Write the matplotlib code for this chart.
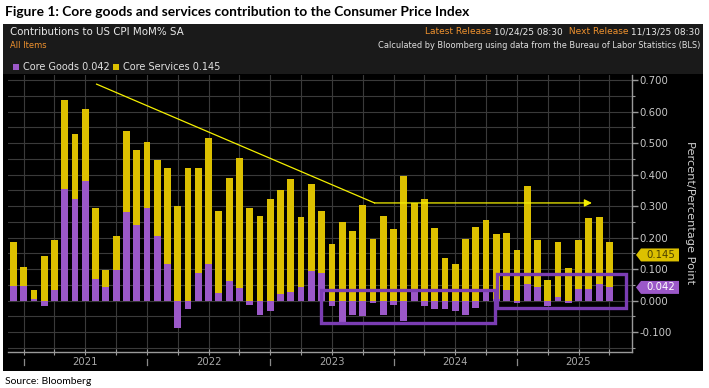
import numpy as np
import pandas as pd
import matplotlib
matplotlib.use("Agg")
import matplotlib.pyplot as plt
from matplotlib.patches import Rectangle, Polygon
from matplotlib.transforms import blended_transform_factory

# ---------------- data ----------------
months = pd.date_range("2020-11-01", periods=59, freq="MS")
core_goods = [0.047, 0.048, 0.004, -0.017, 0.034, 0.354, 0.322, 0.381, 0.069, 0.042,
              0.098, 0.282, 0.240, 0.293, 0.206, 0.116, -0.088, -0.025, 0.087, 0.116,
              0.024, 0.062, 0.041, -0.015, -0.044, -0.032, 0.020, 0.027, 0.042, 0.093,
              0.088, -0.018, -0.067, -0.044, -0.048, -0.007, -0.046, -0.013, -0.063, 0.028,
              -0.018, -0.025, -0.028, -0.032, -0.045, -0.023, 0.029, 0.005, 0.035, -0.006,
              0.054, 0.042, -0.018, 0.012, -0.008, 0.036, 0.038, 0.054, 0.042]
core_services = [0.140, 0.060, 0.030, 0.142, 0.160, 0.284, 0.207, 0.228, 0.224, 0.056,
                 0.108, 0.255, 0.237, 0.210, 0.240, 0.304, 0.299, 0.420, 0.333, 0.399,
                 0.260, 0.327, 0.413, 0.294, 0.268, 0.322, 0.331, 0.358, 0.222, 0.278,
                 0.196, 0.180, 0.248, 0.220, 0.305, 0.197, 0.268, 0.227, 0.396, 0.283,
                 0.324, 0.231, 0.135, 0.116, 0.197, 0.234, 0.227, 0.205, 0.181, 0.161,
                 0.311, 0.152, 0.064, 0.175, 0.104, 0.157, 0.223, 0.210, 0.145]
y_ticks = [-0.1, 0.0, 0.1, 0.2, 0.3, 0.4, 0.5, 0.6, 0.7]
year_labels = ["2021", "2022", "2023", "2024", "2025"]

# annotation shapes (trend arrow and highlight boxes), x in bar index units
trend_x = [8.1, 35.15, 56.3]
trend_y = [0.687, 0.310, 0.310]
boxes = [(29.95, 46.9, -0.071, 0.034), (47.07, 59.66, -0.024, 0.084)]

# ---------------- style ----------------
PURPLE = "#9b58c8"
YELLOW = "#dcc000"
BOXC = "#7b3db3"
GRID = "#3a3a3a"
TXT = "#c8c8c8"
ORANGE = "#f0922e"
FONT = "DejaVu Sans"

W, H = 709, 388
fig = plt.figure(figsize=(W / 100, H / 100), dpi=100)
fig.patch.set_facecolor("white")


def fx(px):
    return px / W


def fy(py):
    return 1 - py / H


# panel backgrounds
fig.patches.append(Rectangle((fx(3), fy(371)), fx(700), 347 / H, transform=fig.transFigure,
                             facecolor="black", edgecolor="none", zorder=-2))
fig.patches.append(Rectangle((fx(3), fy(74)), fx(700), 50 / H, transform=fig.transFigure,
                             facecolor="#1a1a1a", edgecolor="none", zorder=-1))

# title & source
fig.text(fx(5), fy(12), "Figure 1: Core goods and services contribution to the Consumer Price Index",
         fontsize=9.9, fontweight="bold", family="Lato", color="black", va="center", ha="left")
fig.text(fx(5), fy(381), "Source: Bloomberg", fontsize=7.5, family="Lato", color="black",
         va="center", ha="left")

# header texts
fig.text(fx(10), fy(32), "Contributions to US CPI MoM% SA", fontsize=7.4, family=FONT,
         color="#e8e8e8", va="center", ha="left")
fig.text(fx(10), fy(45), "All Items", fontsize=6.0, family=FONT, color=ORANGE, va="center", ha="left")

parts = [("Latest Release", ORANGE), (" 10/24/25 08:30 ", "#e8e8e8"),
         (" Next Release", ORANGE), (" 11/13/25 08:30", "#e8e8e8")]
renderer = fig.canvas.get_renderer()
xr = fx(700)
for text, col in reversed(parts):
    t = fig.text(xr, fy(32), text, fontsize=6.5, family=FONT, color=col, va="center", ha="right")
    bb = t.get_window_extent(renderer=renderer)
    xr -= bb.width / W
fig.text(fx(700), fy(45), "Calculated by Bloomberg using data from the Bureau of Labor Statistics (BLS)",
         fontsize=5.95, family=FONT, color="#e0e0e0", va="center", ha="right")

# legend row
fig.patches.append(Rectangle((fx(13), fy(70)), 6 / W, 6 / H, transform=fig.transFigure,
                             facecolor=PURPLE, edgecolor="none"))
fig.text(fx(23), fy(66.5), f"Core Goods {core_goods[-1]:.3f}", fontsize=7.0, family=FONT,
         color="#e0e0e0", va="center", ha="left")
fig.patches.append(Rectangle((fx(113), fy(70)), 6 / W, 6 / H, transform=fig.transFigure,
                             facecolor=YELLOW, edgecolor="none"))
fig.text(fx(123), fy(66.5), f"Core Services {core_services[-1]:.3f}", fontsize=7.0, family=FONT,
         color="#e0e0e0", va="center", ha="left")

# ---------------- axes ----------------
ax_l, ax_r, ax_t, ax_b = 8, 632, 75, 351.7
ax = fig.add_axes([fx(ax_l), fy(ax_b), (ax_r - ax_l) / W, (ax_b - ax_t) / H])
ax.set_facecolor("black")

x = np.arange(len(months))
goods = np.array(core_goods)
serv = np.array(core_services)
ax.bar(x, goods, width=0.66, color=PURPLE, zorder=3)
ax.bar(x, serv, bottom=np.maximum(goods, 0), width=0.66, color=YELLOW, zorder=3)

ax.set_xlim(-0.52, 60.2)
ax.set_ylim(-0.162, 0.716)

# grid
quarter_idx = [i for i, m in enumerate(months) if m.month in (3, 6, 9, 12)]
for q in quarter_idx:
    ax.axvline(q, color=GRID, lw=0.8, zorder=1)
for yv in np.arange(-0.15, 0.71, 0.05):
    ax.axhline(yv, color=GRID, lw=0.8, zorder=1)

for s in ["top", "left"]:
    ax.spines[s].set_visible(False)
ax.spines["bottom"].set_color("#9a9a9a")
ax.spines["right"].set_color("#9a9a9a")
ax.spines["bottom"].set_linewidth(1.0)
ax.spines["right"].set_linewidth(1.0)

ax.set_xticks(quarter_idx)
ax.set_xticklabels([])
ax.tick_params(axis="x", direction="inout", length=5, color="#9a9a9a", width=0.8)

ax.yaxis.tick_right()
ax.set_yticks(y_ticks)
ax.set_yticklabels([f"{v:.3f}" for v in y_ticks])
ax.set_yticks(np.arange(-0.15, 0.71, 0.05), minor=True)
ax.tick_params(axis="y", which="major", direction="out", length=4, color="#9a9a9a",
               labelcolor=TXT, labelsize=7.3, pad=1.5, width=1.0)
ax.tick_params(axis="y", which="minor", direction="out", length=2, color="#9a9a9a", width=0.8)
for lab in ax.get_yticklabels():
    lab.set_family(FONT)

# year boundary marks and labels
bt = blended_transform_factory(ax.transData, ax.transAxes)
dec_idx = [i for i, m in enumerate(months) if m.month == 12]
for d in dec_idx:
    ax.plot([d, d], [-0.027, -0.048], transform=bt, color="#8a8a8a", lw=0.9, clip_on=False)
jun_idx = [i for i, m in enumerate(months) if m.month == 6]
for j, lab in zip(jun_idx, year_labels):
    ax.text(j, -0.037, lab, transform=bt, ha="center", va="center", fontsize=7.3,
            family=FONT, color="#a8a8a8", clip_on=False)

# right label
fig.text(fx(690), fy(213), "Percent/Percentage Point", rotation=270, fontsize=8.2, family=FONT,
         color="#d0d0d0", va="center", ha="center")

# value tags
tt = blended_transform_factory(ax.transAxes, ax.transData)
aw = ax_r - ax_l


def tag(val, face, tcol):
    h = 6.5 / 315.3
    x0 = (636 - ax_l) / aw
    x1 = (641 - ax_l) / aw
    x2 = (679 - ax_l) / aw
    poly = Polygon([[x0, val], [x1, val + h], [x2, val + h], [x2, val - h], [x1, val - h]],
                   closed=True, transform=tt, facecolor=face, edgecolor="none", clip_on=False,
                   zorder=6)
    ax.add_patch(poly)
    ax.text((661 - ax_l) / aw, val, f"{val:.3f}", transform=tt, ha="center", va="center",
            fontsize=7.3, family=FONT, color=tcol, clip_on=False, zorder=7)


tag(core_services[-1], YELLOW, "#4a4000")
tag(core_goods[-1], PURPLE, "white")

# trend line with arrow
ax.plot(trend_x[:2], trend_y[:2], color="#f5f000", lw=0.9, zorder=5)
ax.annotate("", xy=(trend_x[2], trend_y[2]), xytext=(trend_x[1], trend_y[1]),
            arrowprops=dict(arrowstyle="-|>", color="#f5f000", lw=0.9, mutation_scale=11,
                            shrinkA=0, shrinkB=0),
            zorder=5)

# highlight boxes
for (x0, x1, y0, y1) in boxes:
    ax.add_patch(Rectangle((x0, y0), x1 - x0, y1 - y0, fill=False, edgecolor=BOXC, lw=2.4, zorder=4))

fig.savefig("out.png", dpi=100, facecolor="white")
